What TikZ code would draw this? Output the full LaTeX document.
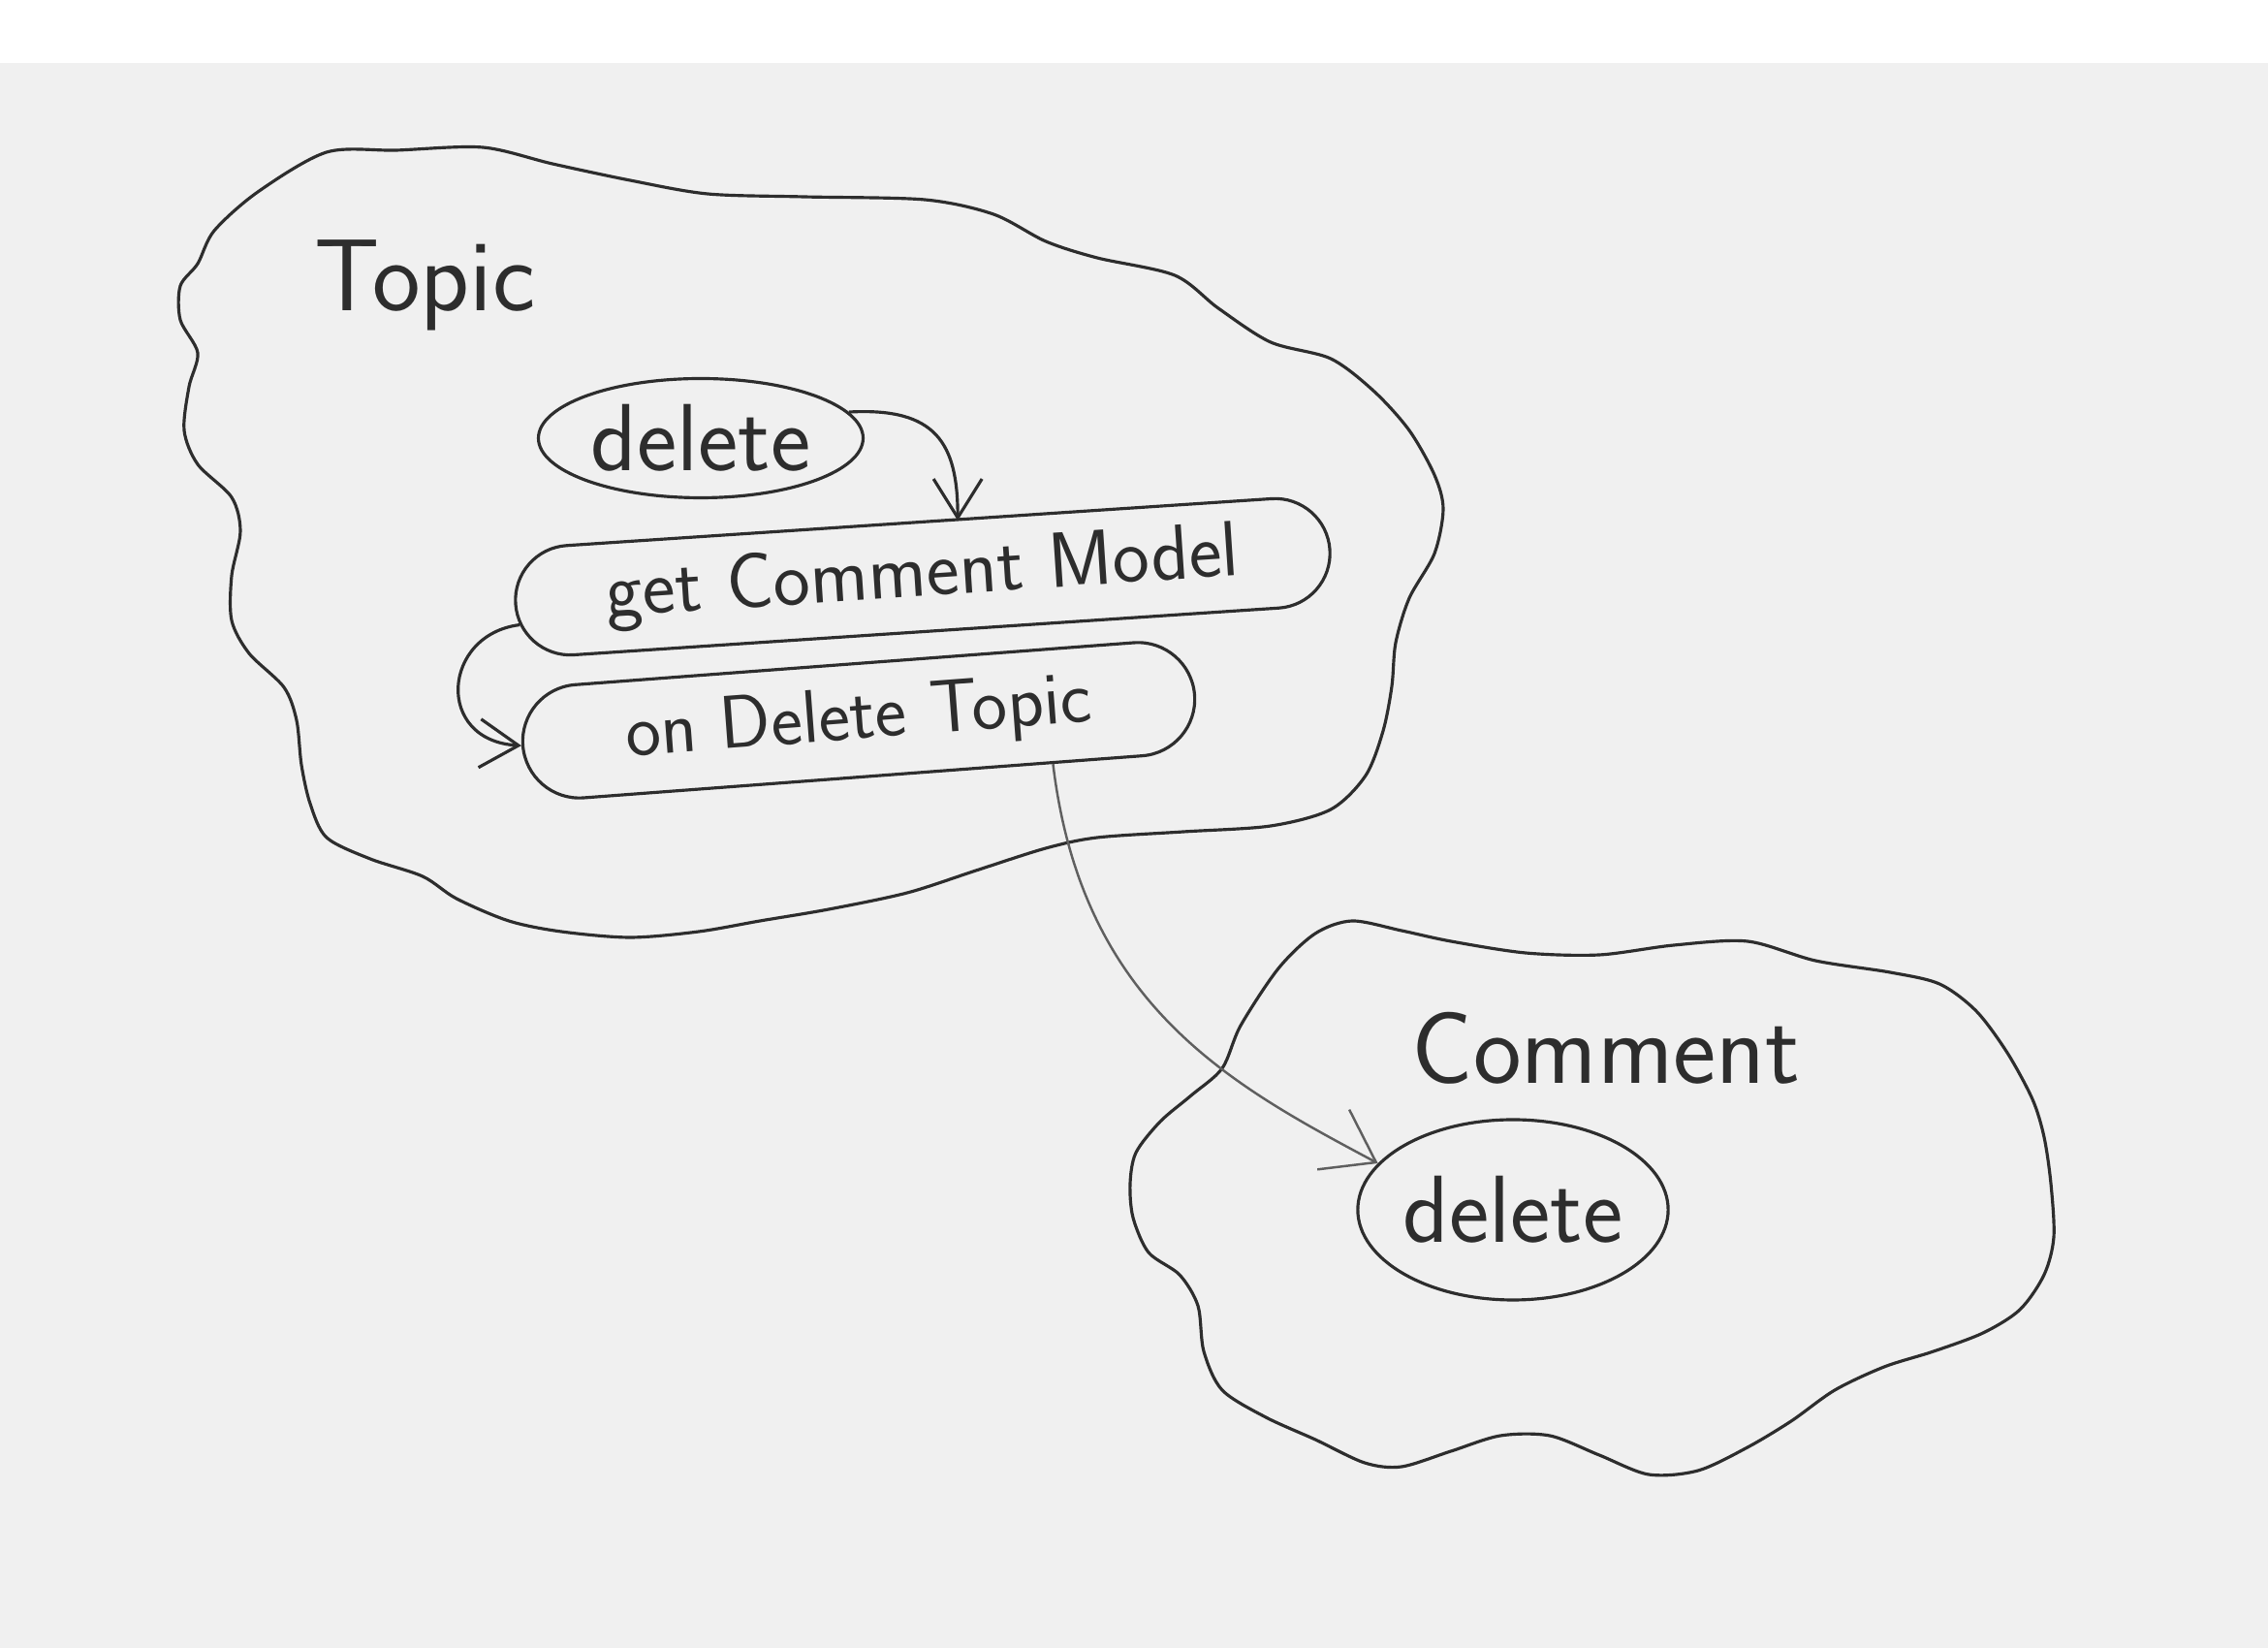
\documentclass[tikz,border=0pt]{standalone}
\usepackage{fontspec}
\usetikzlibrary{arrows.meta, shapes.geometric, shapes.misc, calc}
\definecolor{paper}{RGB}{240,240,240}
\definecolor{ink}{RGB}{45,45,45}
\definecolor{pencil}{RGB}{95,95,95}
\newcommand{\hand}[1]{\fontsize{#1}{#1}\selectfont\sffamily}

\begin{document}
\begin{tikzpicture}[
    cloudline/.style={ink, line width=0.9pt},
    method/.style={draw=ink, line width=0.9pt, ellipse, inner sep=0pt, text=ink},
    longmethod/.style={draw=ink, line width=0.9pt, rounded rectangle, inner sep=0pt, text=ink},
    flow/.style={ink, line width=0.9pt, -{Straight Barb[length=4mm, width=5mm]}},
    title/.style={anchor=base west, inner sep=0pt, text=ink},
  ]
        \useasboundingbox (0,0) rectangle (23.4,17);
        \fill[paper] (0,0) rectangle (23.4,17);
        \fill[white] (0,16.35) rectangle (23.4,17);

        \draw[cloudline] plot[smooth cycle] coordinates {
            (2.21,14.62) (2.66,15.02) (3.37,15.43) (4.09,15.45) (4.98,15.48)
            (5.70,15.31) (6.50,15.14) (7.30,15.00) (8.29,14.97) (9.54,14.94)
            (10.25,14.79) (10.79,14.51) (11.32,14.34) (12.12,14.16) (12.57,13.82)
            (13.11,13.47) (13.73,13.30) (14.18,12.96) (14.54,12.56) (14.80,12.10)
            (14.89,11.75) (14.80,11.29) (14.54,10.83) (14.40,10.37) (14.36,9.92)
            (14.27,9.46) (14.09,9.00) (13.73,8.65) (13.11,8.48) (12.21,8.42)
            (11.32,8.36) (10.79,8.25) (10.07,8.02) (9.36,7.79) (8.55,7.62)
            (7.84,7.50) (7.21,7.39) (6.50,7.33) (5.79,7.39) (5.25,7.50)
            (4.71,7.73) (4.36,7.96) (3.82,8.14) (3.37,8.36) (3.20,8.71)
            (3.11,9.11) (3.06,9.57) (2.93,9.91) (2.57,10.26) (2.39,10.60)
            (2.39,11.06) (2.48,11.52) (2.39,11.87) (2.04,12.21) (1.90,12.56)
            (1.95,13.01) (2.04,13.36) (1.86,13.70) (1.86,14.05) (2.04,14.28)};

        \draw[cloudline] plot[smooth cycle] coordinates {
            (12.80,6.42) (13.19,7.01) (13.57,7.37) (13.95,7.50) (14.46,7.40)
            (14.97,7.29) (15.74,7.17) (16.50,7.15) (17.27,7.25) (18.03,7.29)
            (18.73,7.09) (19.50,6.97) (20.01,6.85) (20.39,6.57) (20.71,6.14)
            (20.97,5.66) (21.09,5.27) (21.16,4.79) (21.19,4.24) (21.09,3.85)
            (20.84,3.49) (20.46,3.25) (19.95,3.06) (19.44,2.90) (18.93,2.66)
            (18.48,2.34) (18.03,2.07) (17.52,1.83) (17.01,1.79) (16.50,1.99)
            (15.99,2.19) (15.48,2.19) (14.97,2.03) (14.46,1.87) (14.08,1.91)
            (13.57,2.15) (13.06,2.38) (12.61,2.66) (12.42,3.06) (12.36,3.53)
            (12.17,3.85) (11.85,4.08) (11.69,4.44) (11.66,4.79) (11.72,5.11)
            (11.97,5.43) (12.29,5.70) (12.61,5.98)};

        \node[title, font=\hand{30}] (topiclabel) at (3.24,13.79) {Topic};
        \node[title, font=\hand{30}] (commentlabel) at (14.56,5.82) {Comment};

        \node[method, minimum width=3.35cm, minimum height=1.23cm, font=\hand{28}] (topicdel) at (7.23,12.48) {delete};
        \node[longmethod, minimum width=8.42cm, minimum height=1.13cm, rotate=3.8, font=\hand{23}] (getcm) at (9.52,11.05) {get Comment Model};
        \node[longmethod, minimum width=6.95cm, minimum height=1.17cm, rotate=4.3, font=\hand{22}] (ondel) at (8.86,9.57) {on Delete Topic};
        \node[method, minimum width=3.12cm, minimum height=1.86cm, font=\hand{28}] (commdel) at (15.61,4.52) {delete};

        \draw[flow] (topicdel.10) .. controls +(0.9,0.05) and +(0,0.8) .. ([xshift=4mm]getcm.north);
        \draw[flow] (getcm.183) .. controls +(-0.8,-0.1) and +(-0.9,0.05) .. (ondel.west);
        \draw[flow, pencil, line width=0.7pt, -{Straight Barb[length=5mm, width=7mm]}] (ondel.-17) .. controls +(0.3,-2.5) and +(-1.5,0.8) .. (commdel.161);

    \end{tikzpicture}
\end{document}
